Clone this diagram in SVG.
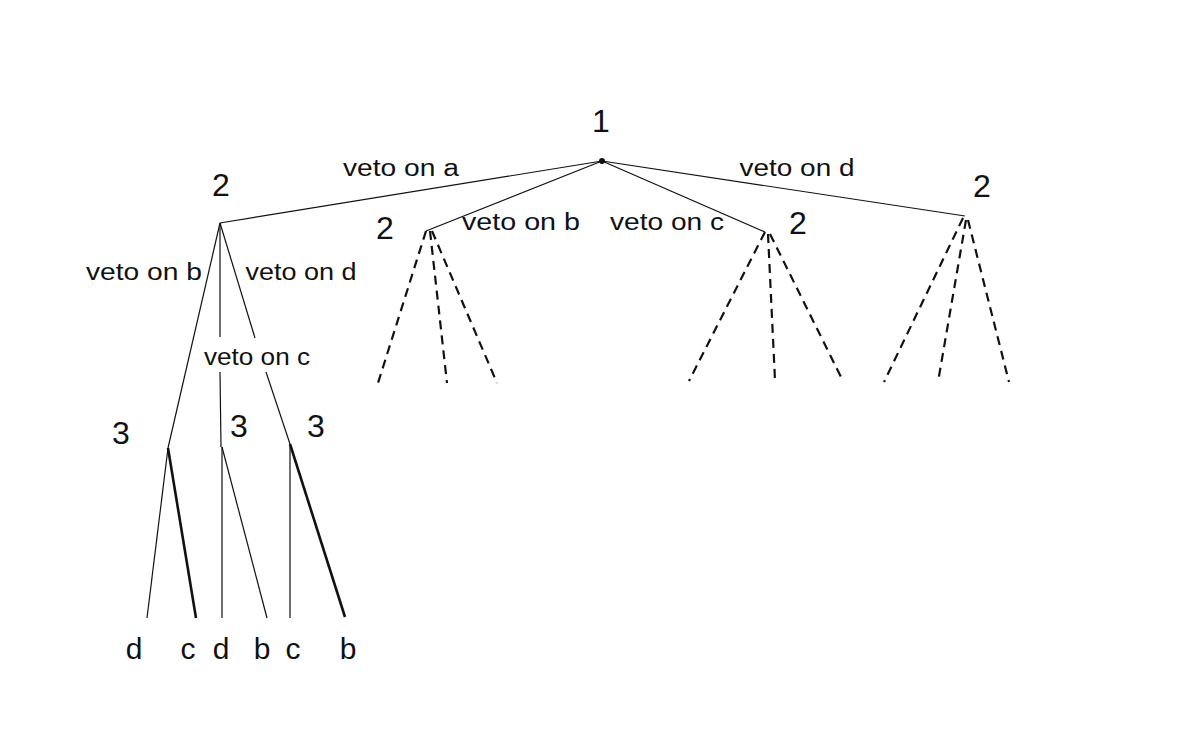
<svg xmlns="http://www.w3.org/2000/svg" width="1194" height="756" viewBox="0 0 1194 756">
<style>
.e{stroke:#111;stroke-width:1.2;fill:none}
.t{stroke:#111;stroke-width:2.6;fill:none}
.d{stroke:#111;stroke-width:2.2;fill:none;stroke-dasharray:9 6}
.n{font-family:"Liberation Sans",sans-serif;font-size:32px;fill:#111;text-anchor:middle}
.l{font-family:"Liberation Sans",sans-serif;font-size:23px;fill:#111;text-anchor:middle}
.f{font-family:"Liberation Sans",sans-serif;font-size:30px;fill:#111;text-anchor:middle}
</style>
<rect width="1194" height="756" fill="#fff"/>
<g id="connectors">
<line class="e" x1="602" y1="161" x2="220" y2="223"/>
<line class="e" x1="602" y1="161" x2="426" y2="231"/>
<line class="e" x1="602" y1="161" x2="765" y2="232"/>
<line class="e" x1="602" y1="161" x2="965" y2="216"/>
<line class="e" x1="220" y1="223" x2="168" y2="448"/>
<line class="e" x1="220" y1="223" x2="220" y2="337"/>
<line class="e" x1="220" y1="372" x2="221" y2="447"/>
<line class="e" x1="220" y1="223" x2="255" y2="338"/>
<line class="e" x1="266" y1="372" x2="290" y2="444"/>
<line class="e" x1="168" y1="448" x2="147" y2="618"/>
<line class="t" x1="168" y1="448" x2="196" y2="618"/>
<line class="e" x1="222" y1="447" x2="222" y2="618"/>
<line class="e" x1="222" y1="447" x2="267" y2="618"/>
<line class="e" x1="290" y1="444" x2="290" y2="618"/>
<line class="t" x1="290" y1="444" x2="345" y2="617"/>
<line class="d" x1="426" y1="231" x2="378" y2="383"/>
<line class="d" x1="430" y1="231" x2="447" y2="383"/>
<line class="d" x1="432" y1="231" x2="497" y2="383"/>
<line class="d" x1="765" y1="232" x2="689" y2="381"/>
<line class="d" x1="768" y1="234" x2="775" y2="380"/>
<line class="d" x1="770" y1="234" x2="843" y2="381"/>
<line class="d" x1="963" y1="218" x2="884" y2="382"/>
<line class="d" x1="966" y1="220" x2="938" y2="382"/>
<line class="d" x1="968" y1="220" x2="1009" y2="382"/>
</g>
<g id="root"><circle cx="602" cy="161" r="3" fill="#111"/><text class="n" x="601" y="132">1</text></g>
<g id="n2a"><text class="n" x="221" y="196">2</text></g>
<g id="n2b"><text class="n" x="385" y="239">2</text></g>
<g id="n2c"><text class="n" x="798" y="234">2</text></g>
<g id="n2d"><text class="n" x="982" y="197">2</text></g>
<g id="n3a"><text class="n" x="121" y="444">3</text></g>
<g id="n3b"><text class="n" x="239" y="437">3</text></g>
<g id="n3c"><text class="n" x="316" y="437">3</text></g>
<g id="edge-labels">
<text class="l" x="401" y="176" textLength="116" lengthAdjust="spacingAndGlyphs">veto on a</text>
<text class="l" x="521" y="230" textLength="118" lengthAdjust="spacingAndGlyphs">veto on b</text>
<text class="l" x="667" y="230" textLength="114" lengthAdjust="spacingAndGlyphs">veto on c</text>
<text class="l" x="797" y="176" textLength="115" lengthAdjust="spacingAndGlyphs">veto on d</text>
<text class="l" x="144" y="280" textLength="116" lengthAdjust="spacingAndGlyphs">veto on b</text>
<text class="l" x="301" y="280" textLength="111" lengthAdjust="spacingAndGlyphs">veto on d</text>
<text class="l" x="257" y="365" textLength="106" lengthAdjust="spacingAndGlyphs">veto on c</text>
</g>
<g id="leaves">
<text class="f" x="134" y="659">d</text>
<text class="f" x="188" y="659">c</text>
<text class="f" x="221" y="659">d</text>
<text class="f" x="262" y="659">b</text>
<text class="f" x="293" y="659">c</text>
<text class="f" x="348" y="659">b</text>
</g>
</svg>
